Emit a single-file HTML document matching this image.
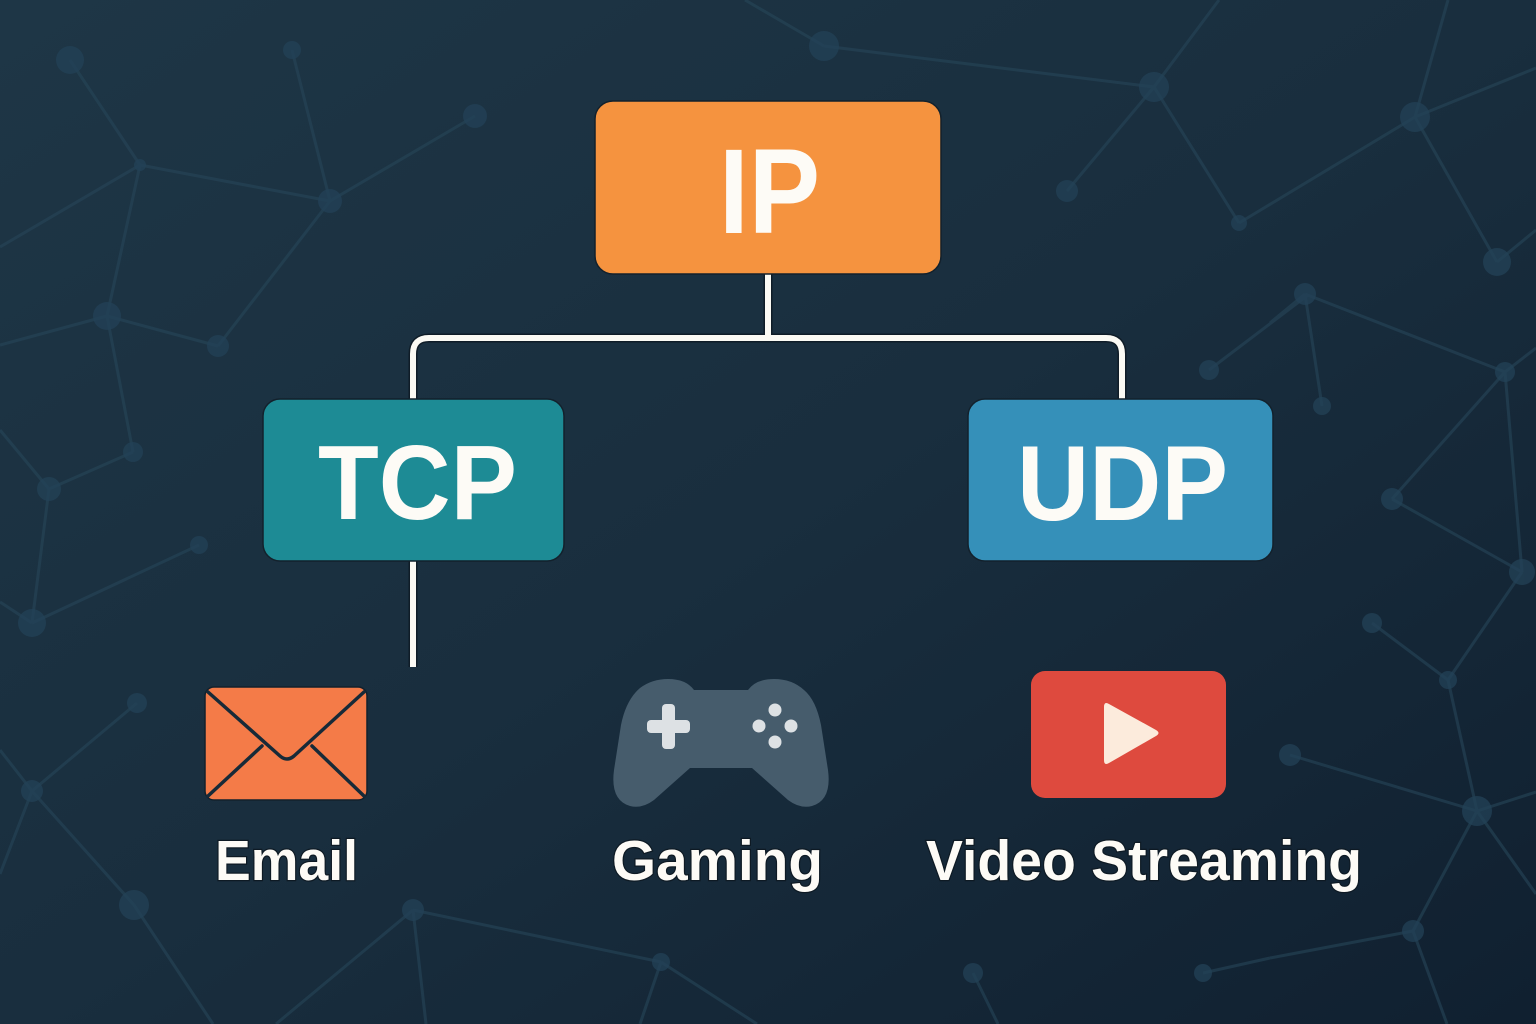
<!DOCTYPE html>
<html><head><meta charset="utf-8"><style>
html,body{margin:0;padding:0;width:1536px;height:1024px;overflow:hidden;background:#182c3b}
svg{display:block}
</style></head><body>
<svg width="1536" height="1024" viewBox="0 0 1536 1024" xmlns="http://www.w3.org/2000/svg">
<defs>
<linearGradient id="bg" x1="0" y1="0" x2="1" y2="1">
<stop offset="0" stop-color="#1e3646"/>
<stop offset="0.5" stop-color="#192e3e"/>
<stop offset="1" stop-color="#102030"/>
</linearGradient>
</defs>
<rect width="1536" height="1024" fill="url(#bg)"/>
<g stroke="#274659" stroke-width="3" opacity="0.6" fill="none">
<line x1="70" y1="60" x2="140" y2="165"/>
<line x1="140" y1="165" x2="330" y2="201"/>
<line x1="292" y1="50" x2="330" y2="201"/>
<line x1="475" y1="116" x2="330" y2="201"/>
<line x1="330" y1="201" x2="218" y2="346"/>
<line x1="140" y1="165" x2="0" y2="247"/>
<line x1="140" y1="165" x2="107" y2="316"/>
<line x1="107" y1="316" x2="0" y2="345"/>
<line x1="107" y1="316" x2="218" y2="346"/>
<line x1="107" y1="316" x2="133" y2="452"/>
<line x1="0" y1="430" x2="49" y2="489"/>
<line x1="49" y1="489" x2="133" y2="452"/>
<line x1="49" y1="489" x2="32" y2="623"/>
<line x1="32" y1="623" x2="199" y2="545"/>
<line x1="0" y1="602" x2="32" y2="623"/>
<line x1="137" y1="703" x2="32" y2="791"/>
<line x1="0" y1="750" x2="32" y2="791"/>
<line x1="32" y1="791" x2="0" y2="874"/>
<line x1="32" y1="791" x2="134" y2="905"/>
<line x1="134" y1="905" x2="213" y2="1024"/>
<line x1="413" y1="910" x2="661" y2="962"/>
<line x1="413" y1="910" x2="276" y2="1024"/>
<line x1="413" y1="910" x2="426" y2="1024"/>
<line x1="661" y1="962" x2="640" y2="1024"/>
<line x1="661" y1="962" x2="757" y2="1024"/>
<line x1="973" y1="973" x2="998" y2="1024"/>
<line x1="1203" y1="973" x2="1270" y2="958"/>
<line x1="1270" y1="958" x2="1413" y2="931"/>
<line x1="1413" y1="931" x2="1447" y2="1024"/>
<line x1="1413" y1="931" x2="1477" y2="811"/>
<line x1="1477" y1="811" x2="1536" y2="792"/>
<line x1="1477" y1="811" x2="1536" y2="894"/>
<line x1="1290" y1="755" x2="1477" y2="811"/>
<line x1="1448" y1="680" x2="1477" y2="811"/>
<line x1="1372" y1="623" x2="1448" y2="680"/>
<line x1="1448" y1="680" x2="1522" y2="572"/>
<line x1="1392" y1="499" x2="1522" y2="572"/>
<line x1="1505" y1="372" x2="1392" y2="499"/>
<line x1="1505" y1="372" x2="1522" y2="572"/>
<line x1="1505" y1="372" x2="1536" y2="348"/>
<line x1="1305" y1="294" x2="1505" y2="372"/>
<line x1="1305" y1="294" x2="1322" y2="406"/>
<line x1="1270" y1="323" x2="1305" y2="294"/>
<line x1="1308" y1="295" x2="1209" y2="370"/>
<line x1="824" y1="46" x2="745" y2="0"/>
<line x1="824" y1="46" x2="1154" y2="87"/>
<line x1="1154" y1="87" x2="1219" y2="0"/>
<line x1="1154" y1="87" x2="1067" y2="191"/>
<line x1="1154" y1="87" x2="1239" y2="223"/>
<line x1="1239" y1="223" x2="1415" y2="117"/>
<line x1="1415" y1="117" x2="1448" y2="0"/>
<line x1="1415" y1="117" x2="1536" y2="68"/>
<line x1="1415" y1="117" x2="1497" y2="262"/>
<line x1="1497" y1="262" x2="1536" y2="230"/>
</g>
<g fill="#234257" opacity="0.75">
<circle cx="70" cy="60" r="14"/>
<circle cx="292" cy="50" r="9"/>
<circle cx="475" cy="116" r="12"/>
<circle cx="140" cy="165" r="6"/>
<circle cx="330" cy="201" r="12"/>
<circle cx="107" cy="316" r="14"/>
<circle cx="218" cy="346" r="11"/>
<circle cx="133" cy="452" r="10"/>
<circle cx="49" cy="489" r="12"/>
<circle cx="32" cy="623" r="14"/>
<circle cx="199" cy="545" r="9"/>
<circle cx="137" cy="703" r="10"/>
<circle cx="32" cy="791" r="11"/>
<circle cx="134" cy="905" r="15"/>
<circle cx="413" cy="910" r="11"/>
<circle cx="661" cy="962" r="9"/>
<circle cx="973" cy="973" r="10"/>
<circle cx="1203" cy="973" r="9"/>
<circle cx="1413" cy="931" r="11"/>
<circle cx="1477" cy="811" r="15"/>
<circle cx="1290" cy="755" r="11"/>
<circle cx="1448" cy="680" r="9"/>
<circle cx="1372" cy="623" r="10"/>
<circle cx="1522" cy="572" r="13"/>
<circle cx="1392" cy="499" r="11"/>
<circle cx="1505" cy="372" r="10"/>
<circle cx="1305" cy="294" r="11"/>
<circle cx="1322" cy="406" r="9"/>
<circle cx="1209" cy="370" r="10"/>
<circle cx="824" cy="46" r="15"/>
<circle cx="1154" cy="87" r="15"/>
<circle cx="1067" cy="191" r="11"/>
<circle cx="1239" cy="223" r="8"/>
<circle cx="1415" cy="117" r="15"/>
<circle cx="1497" cy="262" r="14"/>
</g>
<g fill="none" stroke-linejoin="round">
<path d="M768 274 V338 M413 399 V354 Q413 338 429 338 H1106 Q1122 338 1122 354 V399 M413 561 V667" stroke="#0f1c27" stroke-width="9"/>
<path d="M768 274 V338 M413 399 V354 Q413 338 429 338 H1106 Q1122 338 1122 354 V399 M413 561 V667" stroke="#fbfaf4" stroke-width="6"/>
</g>
<rect x="595" y="101" width="346" height="173" rx="18" fill="#f5933f" stroke="#13212c" stroke-width="1.5"/>
<rect x="263" y="399" width="301" height="162" rx="17" fill="#1d8b95" stroke="#13212c" stroke-width="1.5"/>
<rect x="968" y="399" width="305" height="162" rx="17" fill="#3590b9" stroke="#13212c" stroke-width="1.5"/>
<g font-family="Liberation Sans, Arial, sans-serif" font-weight="bold" fill="#fdfbf6">
<text x="719" y="233" font-size="121" textLength="101" lengthAdjust="spacingAndGlyphs">IP</text>
<text x="318" y="519" font-size="106" textLength="199" lengthAdjust="spacingAndGlyphs">TCP</text>
<text x="1017" y="520" font-size="107" textLength="211" lengthAdjust="spacingAndGlyphs">UDP</text>
</g>
<rect x="205" y="687" width="162" height="113" rx="9" fill="#f47b48" stroke="#13212c" stroke-width="1.5"/>
<g stroke="#172a38" stroke-width="3.5" fill="none" stroke-linecap="round" stroke-linejoin="round">
<path d="M208 692 L280 756 Q287 762 294 756 L364 692"/>
<path d="M208 796 L262 746"/>
<path d="M364 796 L312 746"/>
</g>
<path d="M640 688 Q652 679 668 679 Q686 679 694 690 L748 690 Q756 679 774 679 Q792 679 804 690 Q816 700 821 725 L828 770 Q832 800 812 806 Q800 809 788 800 L752 768 L690 768 L654 800 Q642 809 630 806 Q610 800 614 770 L621 725 Q626 700 640 688 Z" fill="#465c6c"/>
<g fill="#dde1e4">
<rect x="647" y="720" width="43" height="13" rx="4"/>
<rect x="662" y="704" width="13" height="45" rx="4"/>
<circle cx="775" cy="710" r="6.5"/>
<circle cx="775" cy="742" r="6.5"/>
<circle cx="759" cy="726" r="6.5"/>
<circle cx="791" cy="726" r="6.5"/>
</g>
<rect x="1031" y="671" width="195" height="127" rx="14" fill="#de4a3e"/>
<path d="M1104 707 Q1104 701 1109 704 L1156 730 Q1161 733 1156 736 L1109 763 Q1104 766 1104 760 Z" fill="#fcebdc"/>
<g font-family="Liberation Sans, Arial, sans-serif" font-weight="bold" fill="#fdfbf6" stroke="#0e1a24" stroke-width="2.5" paint-order="stroke" font-size="57">
<text x="215" y="880" textLength="143" lengthAdjust="spacingAndGlyphs">Email</text>
<text x="612" y="880" textLength="211" lengthAdjust="spacingAndGlyphs">Gaming</text>
<text x="926" y="880" textLength="436" lengthAdjust="spacingAndGlyphs">Video Streaming</text>
</g>
</svg>
</body></html>
